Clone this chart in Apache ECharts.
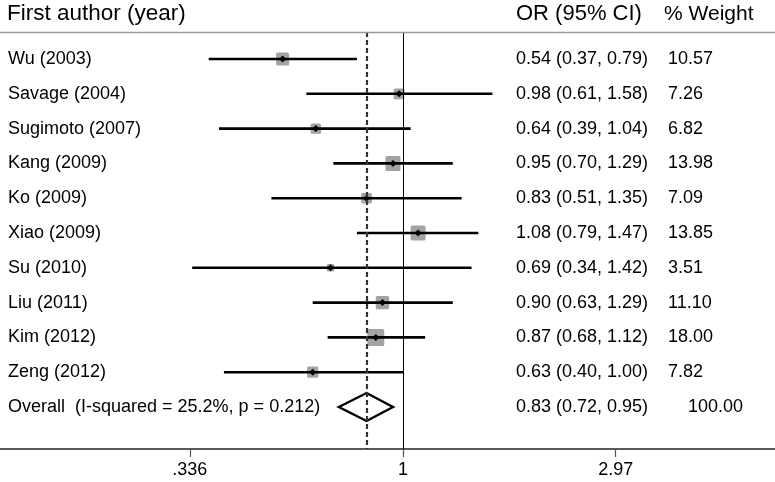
<!DOCTYPE html>
<html><head><meta charset="utf-8">
<script src="https://cdn.jsdelivr.net/npm/echarts@6/dist/echarts.min.js"></script>
<style>html,body{margin:0;padding:0;background:#fff}#c{width:775px;height:482px}</style>
</head><body><div id="c"></div>
<script>
// ---- data ----
const studies = ['Wu (2003)','Savage (2004)','Sugimoto (2007)','Kang (2009)','Ko (2009)','Xiao (2009)','Su (2010)','Liu (2011)','Kim (2012)','Zeng (2012)'];
const orVals  = [0.54, 0.98, 0.64, 0.95, 0.83, 1.08, 0.69, 0.90, 0.87, 0.63];
const ciLow   = [0.37, 0.61, 0.39, 0.70, 0.51, 0.79, 0.34, 0.63, 0.68, 0.40];
const ciHigh  = [0.79, 1.58, 1.04, 1.29, 1.35, 1.47, 1.42, 1.29, 1.12, 1.00];
const weights = [10.57, 7.26, 6.82, 13.98, 7.09, 13.85, 3.51, 11.10, 18.00, 7.82];
const overallLabel = 'Overall  (I-squared = 25.2%, p = 0.212)';
const overallOR = 0.83, overallLow = 0.72, overallHigh = 0.95;
const overallWeight = '100.00';
const tickValues = [0.336, 1, 2.97];
const tickLabels = ['.336', '1', '2.97'];
const headers = ['First author (year)', 'OR (95% CI)', '% Weight'];

// ---- layout ----
const FONT = '"Liberation Sans", Arial, Helvetica, sans-serif';
const lg = v => Math.log10(v);
const fmt = v => v.toFixed(2);
const X_MIN = -0.8956, X_MAX = 0.8267;
const Y_MIN = -0.776, Y_MAX = 11.207;
const COL_LABEL = 8, COL_OR = 516, COL_W = 668, COL_W_OVERALL = 688;
const ROW_FONT = 18;

const rowData = studies.map((s, i) => [lg(orVals[i]), i, lg(ciLow[i]), lg(ciHigh[i]), weights[i]]);
const nRows = studies.length;

function txt(x, y, text, size) {
  return { type: 'text', x: x, y: y, style: { text: text, fill: '#000', font: size + 'px ' + FONT, textVerticalAlign: 'middle', textAlign: 'left' } };
}

const chart = echarts.init(document.getElementById('c'), null, { renderer: 'canvas' });
chart.setOption({
  animation: false,
  backgroundColor: '#fff',
  grid: { left: 0, right: 0, top: 32, bottom: 33 },
  xAxis: {
    type: 'value', min: X_MIN, max: X_MAX,
    splitLine: { show: false },
    axisLine: { show: true, onZero: false, lineStyle: { color: '#222', width: 1.5 } },
    axisTick: { show: true, customValues: tickValues.map(lg), length: 8, lineStyle: { color: '#555', width: 1.2 } },
    axisLabel: {
      show: true, customValues: tickValues.map(lg), margin: 12,
      fontSize: 18, fontFamily: FONT, color: '#000',
      formatter: v => { const k = tickValues.findIndex(t => Math.abs(lg(t) - v) < 1e-6); return k >= 0 ? tickLabels[k] : ''; }
    }
  },
  yAxis: { type: 'value', inverse: true, min: Y_MIN, max: Y_MAX, show: false },
  graphic: [
    { type: 'line', shape: { x1: 0, y1: 32.5, x2: 775, y2: 32.5 }, style: { stroke: '#9a9a9a', lineWidth: 1.5 }, z: 10 },
    txt(7, 14, headers[0], 22.5),
    txt(516, 14, headers[1], 22),
    txt(664, 14, headers[2], 21)
  ],
  series: [
    {
      type: 'custom',
      data: rowData,
      clip: false,
      z: 3,
      renderItem: function (params, api) {
        const i = api.value(1);
        const c = api.coord([api.value(0), i]);
        const lo = api.coord([api.value(2), i]);
        const hi = api.coord([api.value(3), i]);
        const side = 4.0 * Math.sqrt(api.value(4));
        const d = 3.5;
        return {
          type: 'group', children: [
            { type: 'rect', shape: { x: c[0] - side / 2, y: c[1] - side / 2, width: side, height: side, r: 1.5 }, style: { fill: '#a3a3a3' } },
            { type: 'line', shape: { x1: lo[0], y1: lo[1], x2: hi[0], y2: hi[1] }, style: { stroke: '#000', lineWidth: 2.6 } },
            { type: 'polygon', shape: { points: [[c[0], c[1] - d], [c[0] + d, c[1]], [c[0], c[1] + d], [c[0] - d, c[1]]] }, style: { fill: '#000' } },
            txt(COL_LABEL, c[1], studies[i], ROW_FONT),
            txt(COL_OR, c[1], fmt(orVals[i]) + ' (' + fmt(ciLow[i]) + ', ' + fmt(ciHigh[i]) + ')', ROW_FONT),
            txt(COL_W, c[1], weights[i].toFixed(2), ROW_FONT)
          ]
        };
      }
    },
    {
      type: 'custom',
      data: [[lg(overallOR), nRows, lg(overallLow), lg(overallHigh)]],
      clip: false,
      renderItem: function (params, api) {
        const r = api.value(1);
        const c = api.coord([api.value(0), r]);
        const lo = api.coord([api.value(2), r]);
        const hi = api.coord([api.value(3), r]);
        const h = 14;
        return {
          type: 'group', children: [
            { type: 'polygon', shape: { points: [[lo[0], c[1]], [c[0], c[1] - h], [hi[0], c[1]], [c[0], c[1] + h]] }, style: { fill: 'rgba(0,0,0,0)', stroke: '#000', lineWidth: 2.4, lineJoin: 'miter' } },
            txt(COL_LABEL, c[1], overallLabel, ROW_FONT),
            txt(COL_OR, c[1], fmt(overallOR) + ' (' + fmt(overallLow) + ', ' + fmt(overallHigh) + ')', ROW_FONT),
            txt(COL_W_OVERALL, c[1], overallWeight, ROW_FONT)
          ]
        };
      },
      markLine: {
        silent: true, symbol: 'none', label: { show: false },
        data: [
          { xAxis: 0, lineStyle: { color: '#000', width: 1, type: 'solid' } },
          { xAxis: lg(overallOR), lineStyle: { color: '#333', width: 2.2, type: [5, 3] } }
        ]
      },
      z: 1
    }
  ]
});
</script>
</body></html>
